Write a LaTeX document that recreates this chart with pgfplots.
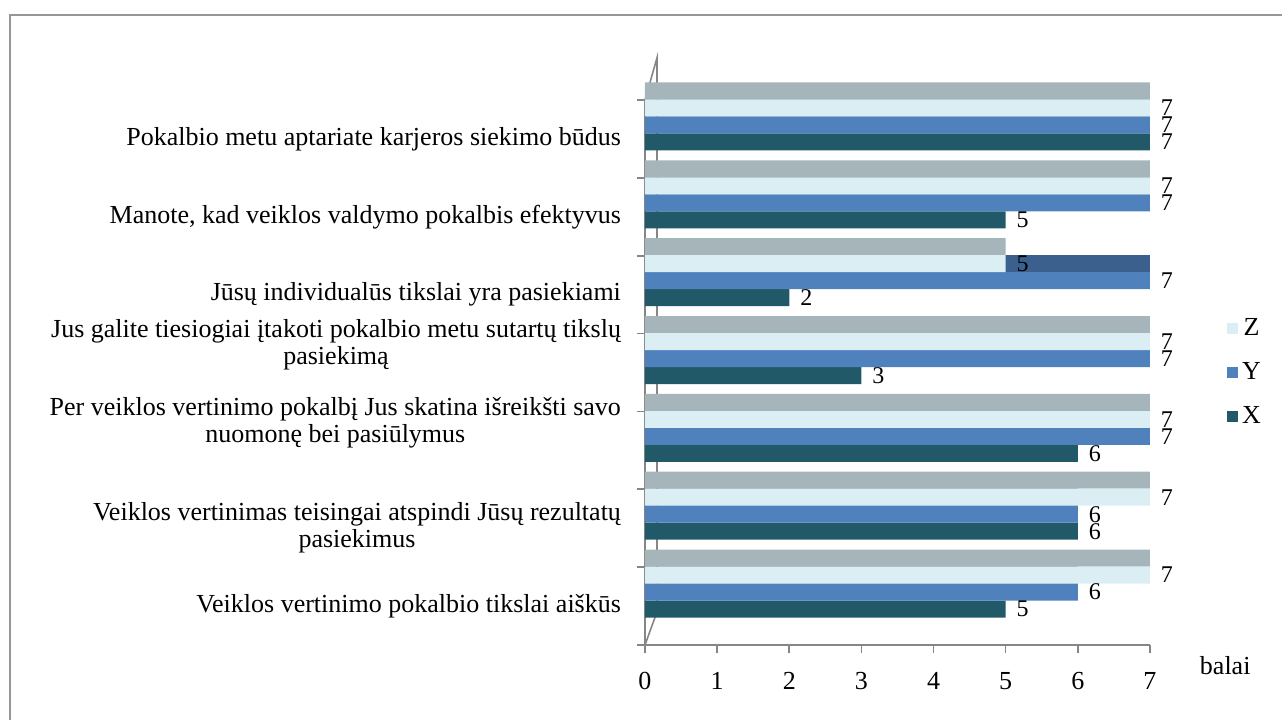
\documentclass[border=0pt]{standalone}
\usepackage{pgfplots}
\usepackage{pgfplotstable}
\pgfplotsset{compat=1.18}
\usepackage{fontspec}
\setmainfont{Liberation Serif}
\definecolor{cZ}{RGB}{219,238,244}
\definecolor{cY}{RGB}{79,129,189}
\definecolor{cX}{RGB}{33,89,104}
\definecolor{cTop}{RGB}{166,181,186}
\definecolor{cYtop}{RGB}{59,96,142}
\definecolor{frameg}{RGB}{150,150,150}
\definecolor{axisg}{RGB}{134,134,134}
\newcommand\f{\fontsize{13}{13.5}\selectfont}
\newcommand\up[1]{\raisebox{10.25pt}[0pt][0pt]{\begin{tabular}{@{}c@{}}#1\end{tabular}}}
\pgfplotstableread{
cat X Y Z
0 5 6 7
1 6 6 7
2 6 7 7
3 3 7 7
4 2 7 5
5 5 7 7
6 7 7 7
}\data
\begin{document}
\begin{tikzpicture}
\useasboundingbox (0,0) rectangle (641pt,360pt);
\draw[frameg, line width=1.2pt] (5pt,0pt) -- (5pt,352.5pt) -- (641pt,352.5pt);
\begin{axis}[
  at={(322.5pt,37.5pt)}, anchor=south west,
  scale only axis, width=252.5pt, height=272.5pt,
  xmin=0, xmax=7, ymin=-0.5, ymax=6.5,
  xbar, bar width=8.5pt,
  clip=false,
  axis x line*=bottom, axis y line*=left,
  axis line style={axisg, line width=0.8pt},
  tick style={axisg, line width=0.8pt},
  tick align=outside,
  major tick length=4pt, minor tick length=4pt,
  xtick={0,...,7},
  ytick={0,...,6},
  minor ytick={-0.5,0.5,...,6.5},
  major y tick style={draw=none},
  /pgf/number format/assume math mode=true,
  xticklabel style={font=\f, yshift=-6pt},
  yticklabel style={font=\f, align=center, xshift=-4.5pt},
  yticklabels={
    {Veiklos vertinimo pokalbio tikslai aiškūs},
    {Veiklos vertinimas teisingai atspindi Jūsų rezultatų\\pasiekimus},
    {\up{Per veiklos vertinimo pokalbį Jus skatina išreikšti savo\\nuomonę bei pasiūlymus}},
    {\up{Jus galite tiesiogiai įtakoti pokalbio metu sutartų tikslų\\pasiekimą}},
    {Jūsų individualūs tikslai yra pasiekiami},
    {Manote, kad veiklos valdymo pokalbis efektyvus},
    {Pokalbio metu aptariate karjeros siekimo būdus}},
  xlabel={balai},
  xlabel style={at={(axis description cs:1.149,-0.037)}, anchor=center, font=\f},
  legend style={at={(axis description cs:1.14,0.5)}, anchor=west, draw=none, fill=none, font=\f, row sep=8pt},
  reverse legend,
  legend image code/.code={\fill[#1] (0pt,-2.8pt) rectangle (5.5pt,2.8pt);},
  every node near coord/.append style={font=\fontsize{12}{12}\selectfont, inner sep=0.3pt, xshift=5pt},
]
\draw[axisg, line width=0.8pt] (axis cs:0,6.5) -- (axis cs:0.166,7.04) -- (axis cs:0.166,-0.076) -- (axis cs:0,-0.5);
% top faces (3D look)
\addplot[fill=cTop, draw=none, bar shift=24pt, forget plot] table[x=Z, y=cat] {\data};
\addplot[fill=cYtop, draw=none, bar shift=15.5pt, forget plot] table[x=Y, y=cat] {\data};
% series
\addplot[fill=cX, draw=none, bar shift=-1.5pt, nodes near coords] table[x=X, y=cat] {\data};
\addlegendentry{X}
\addplot[fill=cY, draw=none, bar shift=7pt, nodes near coords] table[x=Y, y=cat] {\data};
\addlegendentry{Y}
\addplot[fill=cZ, draw=none, bar shift=15.5pt, nodes near coords] table[x=Z, y=cat] {\data};
\addlegendentry{Z}
\end{axis}
\end{tikzpicture}
\end{document}
